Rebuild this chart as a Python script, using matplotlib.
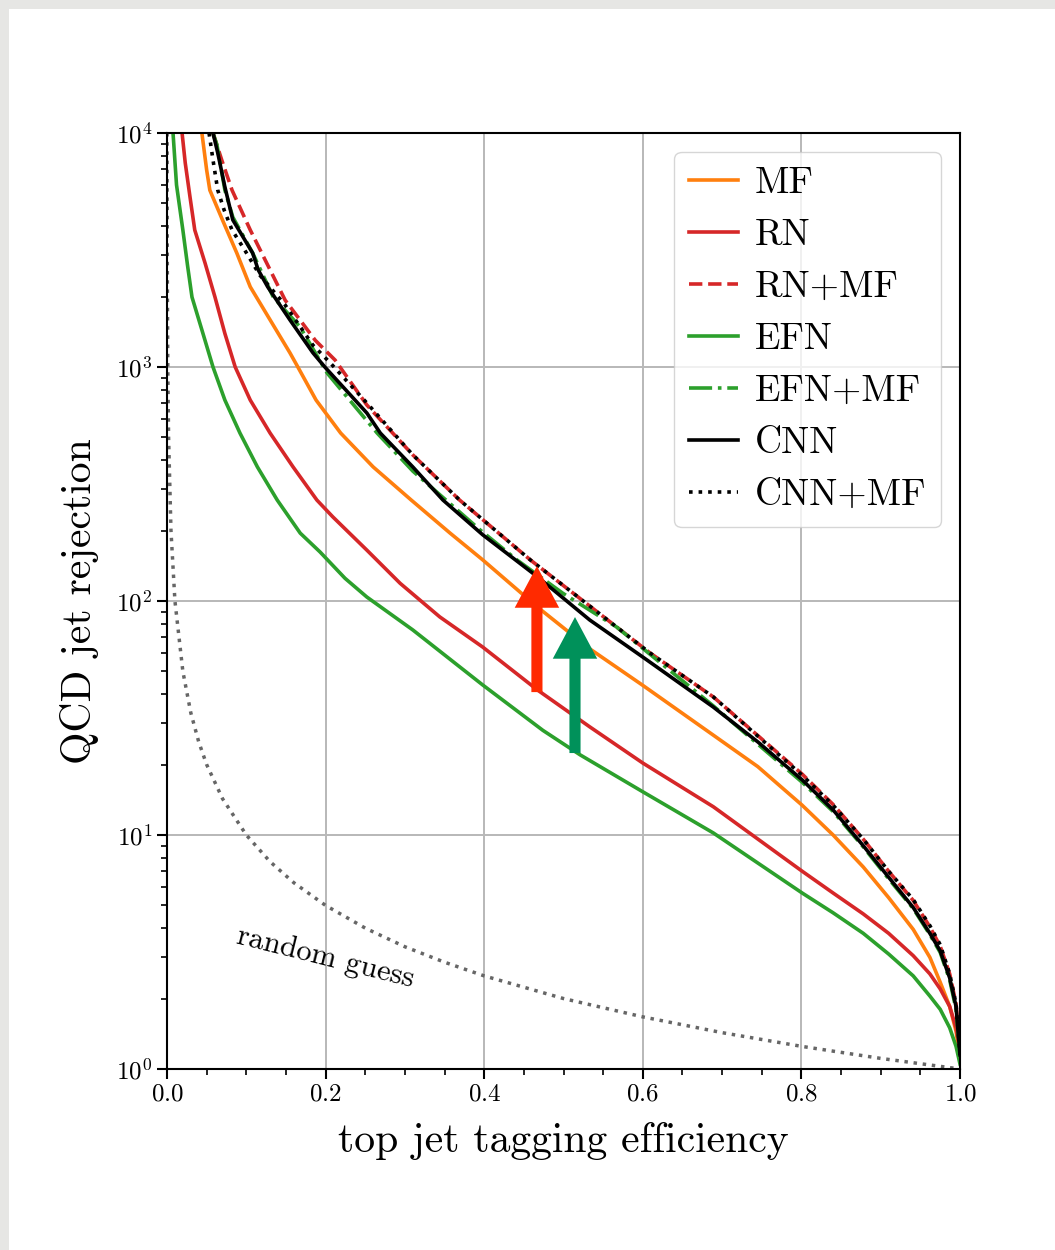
import numpy as np
import matplotlib.pyplot as plt
from matplotlib.patches import Rectangle

plt.rcParams['font.family'] = 'cmr10'
plt.rcParams['mathtext.fontset'] = 'cm'
plt.rcParams['axes.formatter.use_mathtext'] = True

# ROC curves: signal efficiency vs background rejection
mf_eps = [0.044, 0.050, 0.054, 0.071, 0.088, 0.105, 0.130, 0.155, 0.165, 0.188, 0.219, 0.260,
          0.308, 0.357, 0.398, 0.467, 0.533, 0.600, 0.689, 0.745, 0.801, 0.840, 0.878, 0.910,
          0.941, 0.962, 0.975, 0.987, 0.995, 1.0]
mf_rej = [10000, 6950, 5700, 4170, 3070, 2200, 1590, 1150, 1000, 722, 522, 374,
          270, 195, 150, 94.3, 62.5, 43.6, 26.7, 19.6, 13.4, 10.0, 7.3, 5.4,
          3.95, 3.0, 2.35, 1.85, 1.45, 1.12]

rn_eps = [0.019, 0.023, 0.029, 0.035, 0.048, 0.0605, 0.073, 0.086, 0.105, 0.130, 0.159, 0.189,
          0.209, 0.252, 0.294, 0.344, 0.398, 0.467, 0.533, 0.600, 0.689, 0.801, 0.840, 0.878,
          0.910, 0.941, 0.962, 0.975, 0.987, 0.995, 1.0]
rn_rej = [10000, 7450, 5330, 3850, 2780, 1990, 1390, 1000, 722, 522, 374, 270,
          229, 165, 119, 85.5, 63.6, 41.7, 29.0, 20.3, 13.2, 7.0, 5.65, 4.6,
          3.8, 3.05, 2.55, 2.2, 1.85, 1.5, 1.2]

rnmf_eps = [0.058, 0.069, 0.082, 0.105, 0.130, 0.149, 0.187, 0.212, 0.252, 0.310, 0.369,
            0.458, 0.533, 0.609, 0.689, 0.801, 0.840, 0.878, 0.910, 0.941, 0.962, 0.975,
            0.987, 0.995, 1.0]
rnmf_rej = [10000, 7670, 5700, 3850, 2600, 1930, 1300, 1070, 688, 421, 270,
            150, 95.2, 60.0, 38.9, 18.2, 13.5, 9.6, 7.0, 5.25, 4.05, 3.35,
            2.55, 1.9, 1.15]

efn_eps = [0.0076, 0.012, 0.020, 0.026, 0.0315, 0.044, 0.058, 0.073, 0.092, 0.114, 0.139, 0.168,
           0.193, 0.2245, 0.252, 0.310, 0.398, 0.474, 0.521, 0.600, 0.689, 0.801, 0.840, 0.878,
           0.910, 0.941, 0.962, 0.975, 0.987, 0.995, 1.0]
efn_rej = [10000, 6000, 3850, 2700, 1990, 1440, 1000, 722, 522, 374, 270, 195,
           162, 125, 104, 75.2, 43.8, 28, 22, 15.3, 10.2, 5.65, 4.65, 3.8,
           3.1, 2.5, 2.05, 1.8, 1.5, 1.25, 1.05]

efnmf_eps = [0.058, 0.063, 0.073, 0.083, 0.108, 0.134, 0.168, 0.202, 0.227, 0.265, 0.310,
             0.395, 0.441, 0.499, 0.567, 0.689, 0.801, 0.840, 0.878, 0.910, 0.941, 0.962,
             0.975, 0.987, 0.995, 1.0]
efnmf_rej = [10000, 8890, 5700, 4370, 3070, 1990, 1480, 942, 745, 522, 359,
             201, 150, 108, 77.4, 35.6, 16.8, 12.6, 8.9, 6.5, 4.85, 3.75,
             3.15, 2.4, 1.8, 1.15]

cnn_eps = [0.058, 0.064, 0.073, 0.083, 0.096, 0.108, 0.115, 0.127, 0.155, 0.184, 0.199, 0.222,
           0.252, 0.269, 0.310, 0.348, 0.398, 0.467, 0.533, 0.600, 0.689, 0.745, 0.801, 0.840,
           0.878, 0.910, 0.941, 0.962, 0.975, 0.987, 0.995, 1.0]
cnn_rej = [10000, 8220, 5880, 4250, 3590, 3070, 2600, 2200, 1590, 1150, 1000, 822,
           636, 522, 374, 270, 192, 127, 83, 57.6, 35.2, 25.0, 17.2, 12.8,
           9.0, 6.6, 4.9, 3.8, 3.2, 2.45, 1.85, 1.15]

cnnmf_eps = [0.053, 0.058, 0.064, 0.072, 0.082, 0.098, 0.117, 0.149, 0.184, 0.206, 0.252, 0.310,
             0.369, 0.458, 0.533, 0.609, 0.689, 0.801, 0.840, 0.878, 0.910, 0.941, 0.962,
             0.975, 0.987, 0.995, 1.0]
cnnmf_rej = [10000, 7670, 5700, 4690, 3850, 3160, 2470, 1840, 1240, 1040, 702, 421,
             270, 150, 95.2, 60.0, 38.9, 18.0, 13.4, 9.6, 7.0, 5.3, 4.1,
             3.4, 2.55, 1.9, 1.15]

rand_eps = [0.0001, 0.0002, 0.0005, 0.001, 0.002, 0.005, 0.01, 0.02, 0.03, 0.04, 0.05, 0.07,
            0.1, 0.13, 0.16, 0.2, 0.25, 0.3, 0.35, 0.4, 0.5, 0.6, 0.7, 0.8, 0.9, 1.0]
rand_rej = [10000, 5000, 2000, 1000, 500, 200, 100, 50, 33.3, 25, 20, 14.3,
            10, 7.69, 6.25, 5, 4, 3.33, 2.86, 2.5, 2, 1.67, 1.43, 1.25, 1.11, 1]

# arrows: (efficiency, rejection from, rejection to)
arrow_red = (0.4665, 40.8, 141)
arrow_green = (0.5145, 22.4, 85.4)

fig = plt.figure(figsize=(10.55, 12.5), dpi=100)
fig.patch.set_facecolor('#e6e6e4')
fig.patches.append(Rectangle((9/1055, 0), 1, 1 - 9/1250, transform=fig.transFigure,
                             facecolor='white', edgecolor='none', zorder=-10))
ax = fig.add_axes([167/1055, 1 - 1069/1250, 793/1055, 936/1250])

lw = 2.6
ax.plot(mf_eps, mf_rej, color='#ff7f0e', lw=lw, label='MF')
ax.plot(rn_eps, rn_rej, color='#d62728', lw=lw, label='RN')
ax.plot(rnmf_eps, rnmf_rej, color='#d62728', lw=lw, ls='--', label='RN+MF')
ax.plot(efn_eps, efn_rej, color='#2ca02c', lw=lw, label='EFN')
ax.plot(efnmf_eps, efnmf_rej, color='#2ca02c', lw=lw, ls='-.', label='EFN+MF')
ax.plot(cnn_eps, cnn_rej, color='black', lw=lw, label='CNN')
ax.plot(cnnmf_eps, cnnmf_rej, color='black', lw=lw, ls=':', label='CNN+MF')
ax.plot(rand_eps, rand_rej, color='0.4', lw=2.5, ls=':')

ax.text(0.0858, 3.45, 'random guess', fontsize=22, rotation=-14,
        rotation_mode='anchor', ha='left', va='baseline')

for (x, y0, y1), c in [(arrow_red, '#ff2a00'), (arrow_green, '#00915a')]:
    ax.annotate('', xy=(x, y1), xytext=(x, y0),
                arrowprops=dict(arrowstyle='simple,head_length=3.0,head_width=3.2,tail_width=0.8',
                                mutation_scale=10, color=c, lw=0, shrinkA=0, shrinkB=0),
                zorder=10)

ax.set_yscale('log')
ax.set_xlim(0, 1)
ax.set_ylim(1, 1e4)
ax.set_xticks([0, 0.2, 0.4, 0.6, 0.8, 1.0])
ax.set_xticks(np.arange(0, 1.0001, 0.05), minor=True)
ax.grid(True, which='major', color='#b8b8b8', lw=1.4)
ax.set_axisbelow(True)
for s in ax.spines.values():
    s.set_linewidth(1.5)
ax.tick_params(which='major', length=7, width=1.5, labelsize=18)
ax.tick_params(which='minor', length=4, width=1.2)

ax.set_xlabel('top jet tagging efficiency', fontsize=30, labelpad=12)
ax.set_ylabel('QCD jet rejection', fontsize=30, labelpad=12)

ax.legend(loc='upper right', fontsize=27, handlelength=1.3, handletextpad=0.45,
          borderaxespad=0.5)

fig.savefig('out.png', dpi=100, facecolor=fig.get_facecolor())
